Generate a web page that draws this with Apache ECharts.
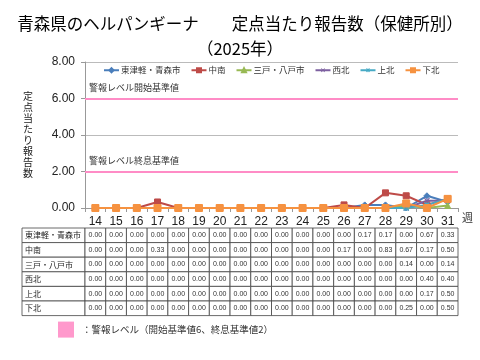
<!DOCTYPE html>
<html><head><meta charset="utf-8">
<script src="https://cdn.jsdelivr.net/npm/echarts@6/dist/echarts.min.js"></script>
<style>html,body{margin:0;padding:0;background:#fff}#c{width:480px;height:360px}</style>
</head><body><div id="c"></div>
<script>
const weeks = ['14','15','16','17','18','19','20','21','22','23','24','25','26','27','28','29','30','31'];
const seriesNames = ['東津軽・青森市','中南','三戸・八戸市','西北','上北','下北'];
const higashiTsugaru = [0,0,0,0,0,0,0,0,0,0,0,0,0,0.17,0.17,0.00,0.67,0.33];
const chunan        = [0,0,0,0.33,0,0,0,0,0,0,0,0,0.17,0.00,0.83,0.67,0.17,0.50];
const sannohe       = [0,0,0,0,0,0,0,0,0,0,0,0,0,0,0,0.14,0.00,0.14];
const seihoku       = [0,0,0,0,0,0,0,0,0,0,0,0,0,0,0,0,0.40,0.40];
const kamikita      = [0,0,0,0,0,0,0,0,0,0,0,0,0,0,0,0,0.17,0.50];
const shimokita     = [0,0,0,0,0,0,0,0,0,0,0,0,0,0,0,0.25,0.00,0.50];
const yTicks = [0,2,4,6,8];
const alarmStart = 6, alarmEnd = 2;

const allData = [higashiTsugaru, chunan, sannohe, seihoku, kamikita, shimokita];
const colors = ['#4A7EBB','#BE4B48','#98B954','#7D60A0','#46AAC5','#F69240'];
const xPath = 'M0,1.5L1.5,0L5,3.5L8.5,0L10,1.5L6.5,5L10,8.5L8.5,10L5,6.5L1.5,10L0,8.5L3.5,5Z';
const plusPath = 'M4.2,0L5.8,0L5.8,10L4.2,10Z M0,4.2L0,5.8L10,5.8L10,4.2Z';
const symbols = ['diamond','rect','triangle','path://'+xPath,'path://'+xPath+' '+plusPath,'rect'];
const jp = '"Noto Sans CJK JP", sans-serif';
const num = '"Liberation Sans", "Noto Sans", sans-serif';

const chart = echarts.init(document.getElementById('c'), null, {renderer:'canvas'});
const series = allData.map((d,i)=>({
  name: seriesNames[i], type:'line', data:d, color:colors[i],
  symbol: symbols[i], symbolSize: i===5?7:6, showAllSymbol:true,
  lineStyle:{width:2}, itemStyle:{color:colors[i], borderColor:colors[i], borderWidth: (i===3||i===4)?0:1},
  z: i===5?4:3
}));
series[0].markLine = {
  silent:true, symbol:'none',
  lineStyle:{color:'#FF8CC6', width:2, type:'solid'},
  label:{position:'insideStartTop', fontFamily:jp, fontSize:9, color:'#333', distance:[4,6]},
  data:[
    {yAxis:alarmStart, label:{formatter:'警報レベル開始基準値'}},
    {yAxis:alarmEnd, label:{formatter:'警報レベル終息基準値'}}
  ]
};

chart.setOption({
  animation:false,
  title:{
    text:'青森県のヘルパンギーナ　　定点当たり報告数（保健所別）\n（2025年）',
    left:'center', top:6,
    textStyle:{fontFamily:jp, fontSize:16.5, fontWeight:'normal', color:'#000', lineHeight:25}
  },
  legend:{
    top:61, left:98, width:380, itemGap:10, itemWidth:15, itemHeight:5,
    textStyle:{fontFamily:jp, fontSize:8.5, color:'#333', padding:[0,0,0,-3]},
    data: seriesNames
  },
  grid:{left:85, right:22, top:62, bottom:152},
  xAxis:{
    type:'category', data:weeks, boundaryGap:true,
    name:'週', nameLocation:'end', nameGap:4,
    nameTextStyle:{fontFamily:jp, fontSize:11, color:'#333', verticalAlign:'top', padding:[4,0,0,0]},
    axisLine:{lineStyle:{color:'#999'}},
    axisTick:{show:true, alignWithLabel:false, length:4, lineStyle:{color:'#999'}},
    axisLabel:{fontFamily:num, fontSize:12, color:'#222', margin:8}
  },
  yAxis:{
    type:'value', min:0, max:8, interval:2,
    name: '定点当たり報告数'.split('').join('\n'),
    nameLocation:'middle', nameRotate:0, nameGap:52,
    nameTextStyle:{fontFamily:jp, fontSize:10, color:'#222', lineHeight:11},
    axisLine:{show:true, lineStyle:{color:'#999'}},
    axisTick:{show:true, length:4, lineStyle:{color:'#999'}},
    axisLabel:{fontFamily:num, fontSize:12, color:'#222', margin:10, formatter:v=>v.toFixed(2)},
    splitLine:{lineStyle:{color:'#bbb'}}
  },
  series: series
});

function buildTable(){
  const x0 = chart.convertToPixel({xAxisIndex:0}, weeks[0]);
  const x1 = chart.convertToPixel({xAxisIndex:0}, weeks[1]);
  const bw = x1 - x0;
  const dataLeft = x0 - bw/2;
  const labelLeft = 22;
  const yBase = chart.convertToPixel({yAxisIndex:0}, yTicks[0]);
  const top = yBase + 20;
  const rh = 14.6;
  const els = [];
  allData.forEach((d,r)=>{
    const y = top + r*rh;
    els.push({type:'rect', shape:{x:labelLeft, y:y, width:dataLeft-labelLeft, height:rh},
      style:{fill:'#fff', stroke:'#444', lineWidth:0.8}});
    els.push({type:'text', x:labelLeft+3, y:y+rh/2,
      style:{text:seriesNames[r], fontFamily:jp, fontSize:8, fill:'#222', verticalAlign:'middle'}});
    d.forEach((v,c)=>{
      const cx = chart.convertToPixel({xAxisIndex:0}, weeks[c]);
      els.push({type:'rect', shape:{x:cx-bw/2, y:y, width:bw, height:rh},
        style:{fill:'#fff', stroke:'#444', lineWidth:0.8}});
      els.push({type:'text', x:cx, y:y+rh/2,
        style:{text:v.toFixed(2), fontFamily:num, fontSize:7, fill:'#333', align:'center', verticalAlign:'middle'}});
    });
  });
  const ly = top + allData.length*rh + 6;
  els.push({type:'rect', shape:{x:58, y:ly, width:16, height:16}, style:{fill:'#FF99CC'}});
  els.push({type:'text', x:82, y:ly+8, style:{text:'：警報レベル（開始基準値6、終息基準値2）', fontFamily:jp, fontSize:9.5, fill:'#333', verticalAlign:'middle'}});
  chart.setOption({graphic:{elements:els}});
}
buildTable();
</script></body></html>
